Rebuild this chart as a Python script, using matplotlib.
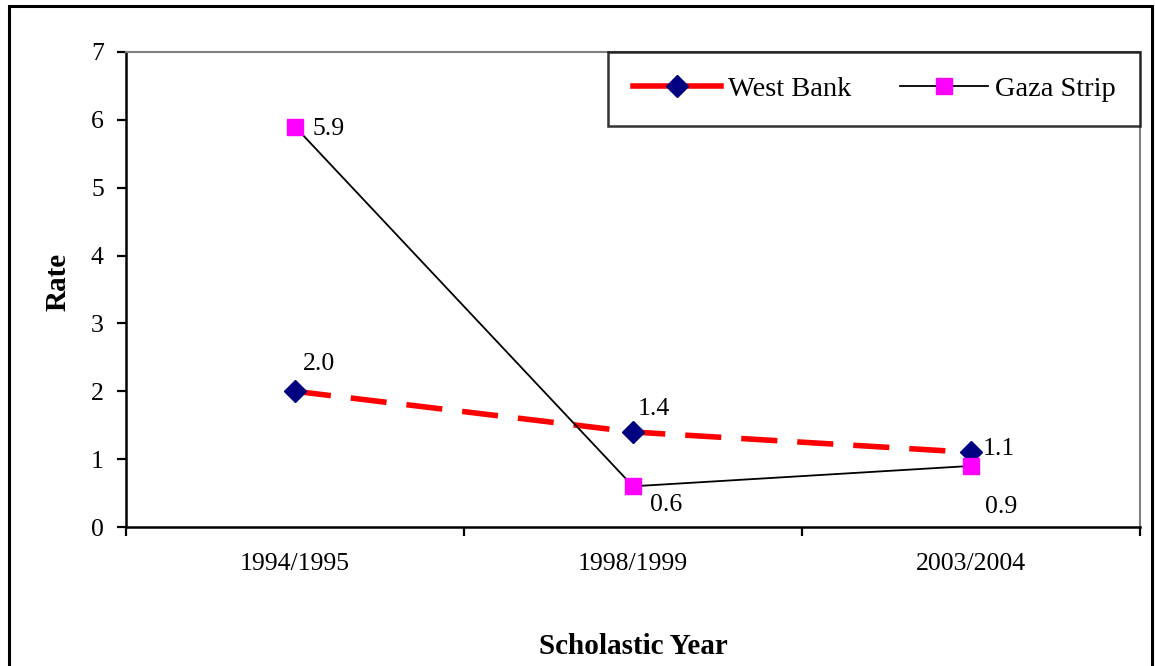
import matplotlib
matplotlib.use("Agg")
import matplotlib.pyplot as plt
from matplotlib.patches import Rectangle
from matplotlib.lines import Line2D

years = ["1994/1995", "1998/1999", "2003/2004"]
west_bank = [2.0, 1.4, 1.1]
gaza = [5.9, 0.6, 0.9]

plt.rcParams['font.family'] = ['Liberation Serif', 'DejaVu Serif']

W, H = 1155, 666
PX = 72 / 100  # points per pixel
fig = plt.figure(figsize=(W / 100, H / 100), dpi=100)
ax = fig.add_axes([126 / W, 1 - 527 / H, (1140 - 126) / W, (527 - 52) / H])

x = list(range(len(years)))
wb_style = dict(color='red', lw=4.0, marker='D', markersize=11,
                markerfacecolor='#000080', markeredgecolor='#000080')
gz_style = dict(color='black', lw=1.3, marker='s', markersize=11,
                markerfacecolor='#FF00FF', markeredgecolor='#FF00FF')
ax.plot(x, west_bank, dashes=(6.5, 3.6), zorder=3, **wb_style)
ax.plot(x, gaza, zorder=4, **gz_style)

fs = 18.5
# label offsets in pixels (dx to left edge, dy up)
offsets_wb = [(8, 29), (5, 25), (12, 5)]
offsets_g = [(17, 0), (17, -17), (14, -39)]
for vals, offs in ((west_bank, offsets_wb), (gaza, offsets_g)):
    for i, v in enumerate(vals):
        dx, dy = offs[i]
        ax.annotate(f"{v:.1f}", (x[i], v), xytext=(dx * PX, (dy - 2) * PX),
                    textcoords='offset points', fontsize=fs,
                    ha='left', va='center', zorder=5)

ax.set_xlim(-0.5, 2.5)
ax.set_ylim(0, 7)
ax.set_yticks(range(0, 8))
ax.set_xticks(x)
ax.set_xticklabels(years, fontsize=fs)
ax.set_xticks([-0.5, 0.5, 1.5, 2.5], minor=True)
ax.tick_params(axis='x', which='major', length=0, pad=19)
ax.tick_params(axis='x', which='minor', length=6.5, width=1.6, direction='out')
ax.tick_params(axis='y', labelsize=fs, length=6.5, width=1.6, direction='out', pad=9.5)

for s in ['left', 'bottom']:
    ax.spines[s].set_linewidth(1.8)
    ax.spines[s].set_color('black')
for s in ['top', 'right']:
    ax.spines[s].set_linewidth(1.5)
    ax.spines[s].set_color('#808080')

ylab = ax.set_ylabel('Rate', fontsize=21, fontweight='bold')
ax.yaxis.set_label_coords((58 - 126) / 1014, (527 - 282) / 475)
ylab.set_va('center')
xlab = ax.set_xlabel('Scholastic Year', fontsize=21, fontweight='bold')
ax.xaxis.set_label_coords(0.5, -(646 - 527) / 475)
xlab.set_va('center')

handles = [Line2D([], [], **wb_style), Line2D([], [], **gz_style)]
leg = ax.legend(handles, ['West Bank', 'Gaza Strip'], loc='upper right',
                bbox_to_anchor=(1.0, 1.0), ncol=2, fontsize=20.5,
                frameon=True, fancybox=False, edgecolor='black', borderpad=0.85,
                handlelength=3.1, columnspacing=1.7, handletextpad=0.25,
                borderaxespad=0)
leg.get_frame().set_linewidth(1.8)
leg.set_zorder(6)

fig.patches.append(Rectangle((9 / W, -0.02), (1152 - 9) / W, 1 - 6 / H + 0.02,
                             transform=fig.transFigure, fill=False,
                             edgecolor='black', lw=2.2, clip_on=False))

fig.savefig('out.png', dpi=100)
